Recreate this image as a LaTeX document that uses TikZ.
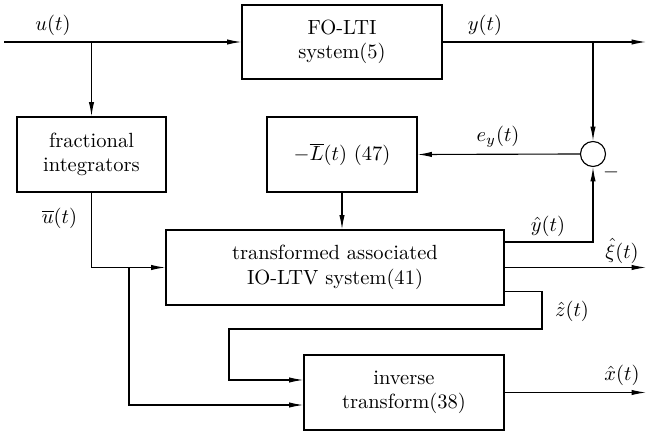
\documentclass[tikz,border=0pt]{standalone}
\usetikzlibrary{arrows.meta}
\begin{document}
\begin{tikzpicture}[x=0.4875pt,y=-0.4875pt,
  line width=0.55pt,
  block/.style={draw,rectangle,inner sep=0pt,align=center,font=\normalsize},
  sumnode/.style={draw,circle,inner sep=0pt,minimum size=12.2pt},
  arr/.style={-{Latex[length=7pt,width=2.6pt]}},
  lbl/.style={inner sep=0pt}]
\useasboundingbox (0,0) rectangle (653,437);

% blocks
\node[block,minimum width=97.5pt,minimum height=36.1pt] (fo) at (342,42) {FO-LTI\\system(5)};
\node[block,minimum width=72.6pt,minimum height=36.6pt] (frac) at (91.5,154.5) {fractional\\integrators};
\node[block,minimum width=73.1pt,minimum height=36.6pt] (L) at (342,154.5) {$-\overline{L}(t)$ (47)};
\node[block,minimum width=164.8pt,minimum height=36.6pt] (tr) at (335,267.5) {transformed associated\\IO-LTV system(41)};
\node[block,minimum width=97.5pt,minimum height=36.6pt] (inv) at (404,392.5) {inverse\\transform(38)};
\node[sumnode] (sum) at (593,154) {};

% free ends and corners
\coordinate (uin) at (4,42);
\coordinate (yout) at (646,42);
\coordinate (xiout) at (646,267.5);
\coordinate (xout) at (646,392.5);
\coordinate (ubr) at (129,267.5);
\coordinate (zr) at (542,329);
\coordinate (zl) at (229,329);

% connectors
\draw[arr] (uin) -- (fo.west);
\draw[arr] (uin -| frac.north) -- (frac.north);
\draw[arr] (fo.east) -- (yout);
\draw[arr] (yout -| sum.north) -- (sum.north);
\draw[arr] (sum.west) -- (L.east);
\draw[arr] (L.south) -- (L.south |- tr.north);
\draw[arr] ([yshift=12.4pt]tr.east) -| (sum.south);
\draw[arr] (tr.east) -- (xiout);
\draw[arr] (frac.south) |- (tr.west);
\draw[arr] (ubr) |- ([yshift=-6.1pt]inv.west);
\draw[arr] ([yshift=-11.9pt]tr.east) -| (zr) -- (zl) |- ([yshift=6.1pt]inv.west);
\draw[arr] (inv.east) -- (xout);

% signal labels
\node[lbl] at (53,25) {$u(t)$};
\node[lbl] at (485,25) {$y(t)$};
\node[lbl] at (498,137) {$e_y(t)$};
\node[lbl] at (611,172) {$-$};
\node[lbl] at (59.5,218) {$\overline{u}(t)$};
\node[lbl] at (548,226) {$\hat{y}(t)$};
\node[lbl] at (622,251) {$\hat{\xi}(t)$};
\node[lbl] at (572,311) {$\hat{z}(t)$};
\node[lbl] at (622,375) {$\hat{x}(t)$};
\end{tikzpicture}
\end{document}
